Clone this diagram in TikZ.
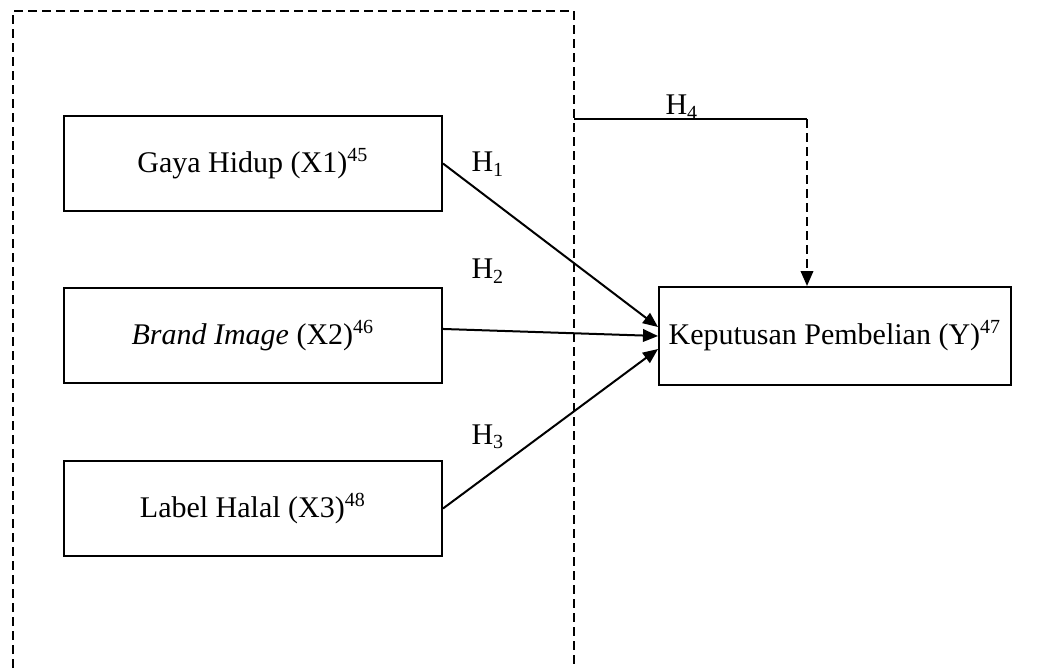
\documentclass[tikz,border=0pt]{standalone}
\usepackage{fontspec}
\setmainfont{Liberation Serif}
\usetikzlibrary{matrix,positioning,arrows.meta}

\begin{document}
\begin{tikzpicture}[
    x = 0.4pt,
    y = -0.4pt,
    varbox/.style={
        draw,
        rectangle,
        line width = 0.8pt,
        minimum height = 38pt,
        inner sep = 2pt,
        font = \fontsize{12}{14}\selectfont
    },
    net/.style={
        matrix of nodes,
        nodes={varbox},
        inner sep = 0pt,
        column 1/.style={nodes={minimum width = 151.2pt}},
        column 2/.style={nodes={minimum width = 140.8pt, minimum height = 39.2pt}},
        column sep = 86pt,
        row sep = 29.6pt,
        ampersand replacement=\&
    },
    hyp/.style={
        inner sep = 1pt,
        font = \fontsize{12}{14}\selectfont
    },
    frame/.style={
        dash pattern = on 3.6pt off 2pt,
        line width = 0.8pt
    },
    line width = 0.8pt,
    >={Triangle[length=6pt,width=5pt]}
    ]

\useasboundingbox (0,0) rectangle (1039,668);

% dashed frame round the independent variables
\draw[frame] (13,668) -- (13,11) -- (574,11) -- (574,668);

\matrix[net, anchor=north west] (mat) at (62,114)
{
    Gaya Hidup (X1)\textsuperscript{45} \\
    \textit{Brand Image} (X2)\textsuperscript{46} \& Keputusan Pembelian (Y)\textsuperscript{47} \\
    Label Halal (X3)\textsuperscript{48} \\
};

% partial hypotheses
\draw[->] (mat-1-1.east) -- ([yshift=3.6pt]mat-2-2.west);
\draw[->] ([yshift=2.8pt]mat-2-1.east) -- (mat-2-2.west);
\draw[->] (mat-3-1.east) -- ([yshift=-5.2pt]mat-2-2.west);

\node[hyp] (h1) at (488,164) {H\textsubscript{1}};
\node[hyp] (h2) at (488,271) {H\textsubscript{2}};
\node[hyp] (h3) at (488,437) {H\textsubscript{3}};

% simultaneous hypothesis
\coordinate (h4a) at (574,119);
\coordinate (h4b) at (807,119);
\draw (h4a) -- (h4b);
\draw[frame, ->] (h4b) -- (h4b |- mat-2-2.north);
\node[hyp] (h4) at (682,107) {H\textsubscript{4}};
\end{tikzpicture}
\end{document}
